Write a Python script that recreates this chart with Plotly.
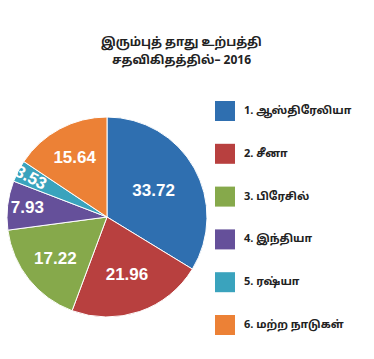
import plotly.graph_objects as go

labels = ["1. ஆஸ்திரேலியா", "2. சீனா", "3. பிரேசில்", "4. இந்தியா", "5. ரஷ்யா", "6. மற்ற நாடுகள்"]
values = [33.72, 21.96, 17.22, 7.93, 3.53, 15.64]
colors = ["#2F6FB0", "#B8403F", "#86A94B", "#65509A", "#3AA3BD", "#EC8136"]
title_lines = ["இரும்புத் தாது உற்பத்தி", "சதவிகிதத்தில்– 2016"]

W, H = 374, 359
tamil_font = "Noto Sans Tamil, Lohit Tamil, Noto Sans, Liberation Sans, sans-serif"

fig = go.Figure(go.Pie(
    labels=labels, values=values, sort=False, direction="clockwise", rotation=0,
    marker=dict(colors=colors, line=dict(color="white", width=1)),
    texttemplate="%{value:.2f}", textposition="inside", insidetextorientation="auto",
    textfont=dict(family="Liberation Sans, Arial, sans-serif", size=17, color="white", weight="bold"),
    hoverinfo="label+value", showlegend=False,
    domain=dict(x=[7 / W, 207 / W], y=[(H - 317) / H, (H - 117) / H]),
))

shapes = []
annotations = []
for i, (lab, col) in enumerate(zip(labels, colors)):
    yc = 111 + i * 42.8
    shapes.append(dict(type="rect", xref="paper", yref="paper",
                       x0=215 / W, x1=235 / W, y0=(H - yc - 10) / H, y1=(H - yc + 10) / H,
                       fillcolor=col, line=dict(width=0)))
    annotations.append(dict(text=lab, xref="paper", yref="paper", x=242 / W, y=(H - yc) / H,
                            xanchor="left", yanchor="middle", showarrow=False,
                            font=dict(family=tamil_font, size=11, color="#222222", weight="bold")))

for j, t in enumerate(title_lines):
    annotations.append(dict(text=t, xref="paper", yref="paper", x=181 / W, y=(H - 43 - j * 17) / H,
                            xanchor="center", yanchor="middle", showarrow=False,
                            font=dict(family=tamil_font, size=12, color="#222222", weight="bold")))

fig.update_layout(
    width=W, height=H, margin=dict(l=0, r=0, t=0, b=0),
    paper_bgcolor="white", plot_bgcolor="white",
    shapes=shapes, annotations=annotations,
    uniformtext=dict(minsize=15, mode="show"),
)
fig.write_html("out.html", config={"displayModeBar": False},
               post_script="document.body.style.margin='0';")
